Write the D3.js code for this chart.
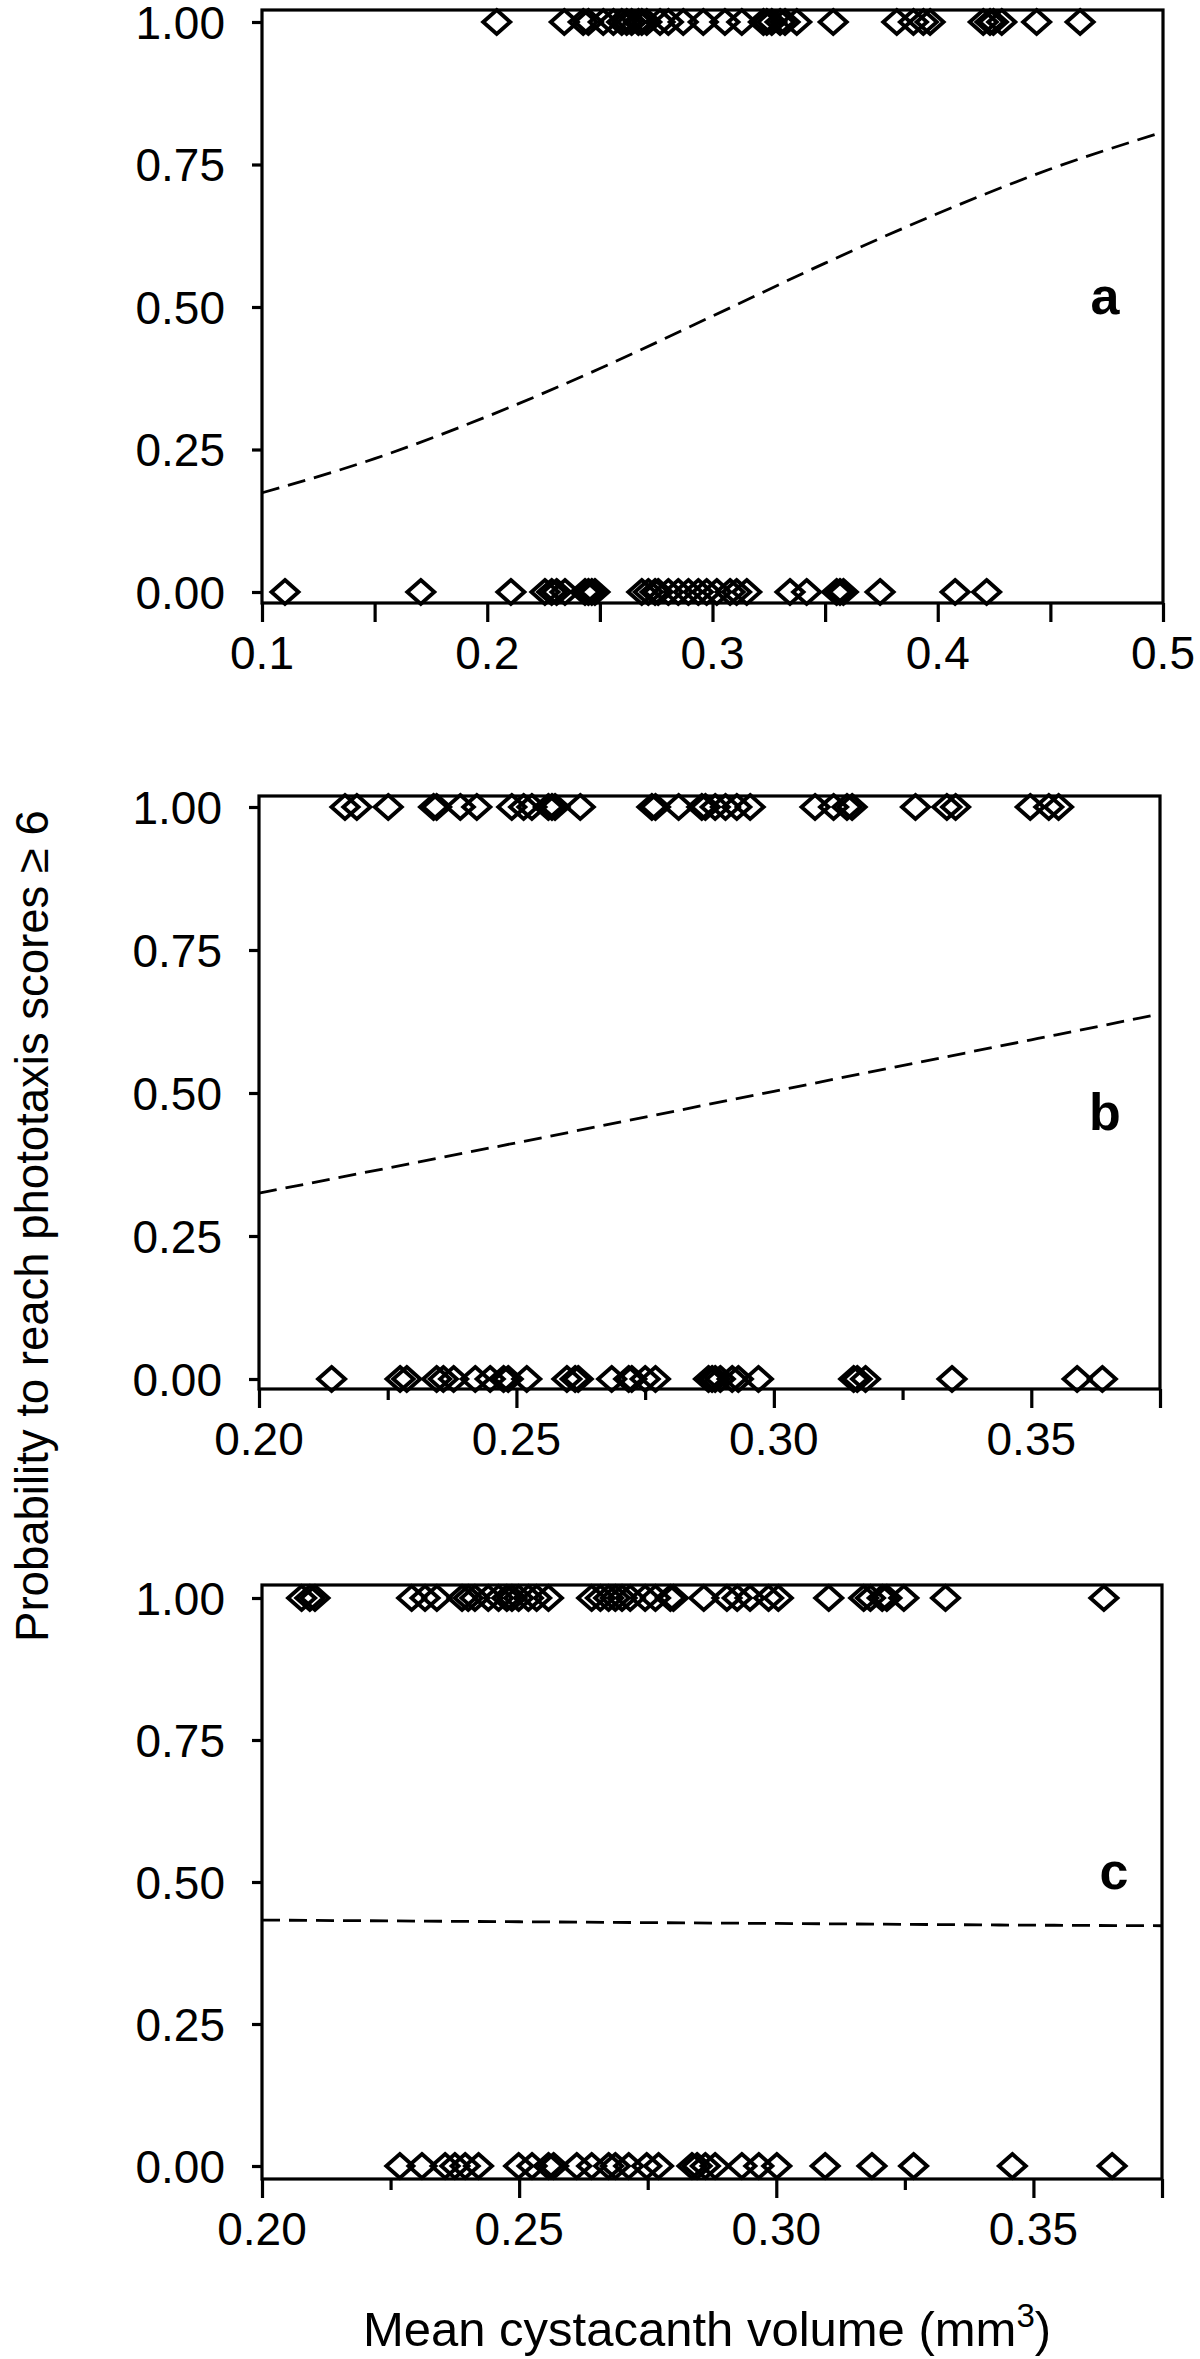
<!DOCTYPE html>
<html><head><meta charset="utf-8">
<script src="https://cdn.jsdelivr.net/npm/d3@7/dist/d3.min.js"></script>
<style>body{margin:0;background:#fff;} text{font-family:"Liberation Sans",Arial,sans-serif;}</style>
</head><body>
<svg id="chart" width="1200" height="2359"></svg>
<script>
// ---- data ----
const yTickValues = [0, 0.25, 0.5, 0.75, 1];
const yTickLabels = ["0.00", "0.25", "0.50", "0.75", "1.00"];

// panel a
const aXTicks = [0.1, 0.15, 0.2, 0.25, 0.3, 0.35, 0.4, 0.45, 0.5];
const aXLabelVals = [0.1, 0.2, 0.3, 0.4, 0.5];
const aXLabels = ["0.1", "0.2", "0.3", "0.4", "0.5"];
const aOnes = [0.2042,0.2342,0.2426,0.2449,0.2515,0.2560,0.2597,0.2619,0.2641,0.2671,0.2686,0.2708,0.2767,0.2804,0.2870,0.2959,0.3055,0.3130,0.3226,0.3241,0.3263,0.3300,0.3322,0.3374,0.3536,0.3818,0.3892,0.3936,0.3966,0.4202,0.4232,0.4247,0.4284,0.4439,0.4632];
const aZeros = [0.1102,0.1705,0.2105,0.2256,0.2286,0.2308,0.2345,0.2434,0.2449,0.2464,0.2478,0.2686,0.2715,0.2745,0.2759,0.2804,0.2848,0.2893,0.2937,0.2974,0.3019,0.3078,0.3107,0.3152,0.3344,0.3418,0.3551,0.3566,0.3581,0.3744,0.4077,0.4217];
const aCurveX = [0.10,0.15,0.20,0.25,0.30,0.35,0.40,0.45,0.50];
const aCurveP = [0.174,0.234,0.308,0.392,0.484,0.577,0.664,0.742,0.807];

// panel b
const bXTicks = [0.2, 0.225, 0.25, 0.275, 0.3, 0.325, 0.35, 0.375];
const bXLabelVals = [0.2, 0.25, 0.3, 0.35];
const bXLabels = ["0.20", "0.25", "0.30", "0.35"];
const bOnes = [0.2167,0.2190,0.2251,0.2339,0.2345,0.2391,0.2423,0.2491,0.2514,0.2530,0.2562,0.2569,0.2575,0.2624,0.2763,0.2770,0.2815,0.2860,0.2867,0.2886,0.2906,0.2928,0.2954,0.3080,0.3116,0.3142,0.3152,0.3275,0.3336,0.3353,0.3498,0.3534,0.3553];
const bZeros = [0.2141,0.2274,0.2287,0.2345,0.2358,0.2378,0.2420,0.2449,0.2475,0.2484,0.2520,0.2598,0.2614,0.2620,0.2685,0.2718,0.2724,0.2750,0.2770,0.2873,0.2880,0.2886,0.2896,0.2919,0.2931,0.2970,0.3155,0.3162,0.3178,0.3346,0.3589,0.3638];
const bCurveX = [0.200,0.250,0.300,0.350,0.375];
const bCurveP = [0.325,0.413,0.503,0.593,0.638];

// panel c
const cXTicks = [0.2, 0.225, 0.25, 0.275, 0.3, 0.325, 0.35, 0.375];
const cXLabelVals = [0.2, 0.25, 0.3, 0.35];
const cXLabels = ["0.20", "0.25", "0.30", "0.35"];
const cOnes = [0.2077,0.2093,0.2103,0.2291,0.2317,0.2340,0.2389,0.2401,0.2414,0.2440,0.2460,0.2476,0.2486,0.2499,0.2518,0.2534,0.2557,0.2641,0.2658,0.2674,0.2687,0.2700,0.2716,0.2745,0.2765,0.2794,0.2800,0.2859,0.2904,0.2924,0.2949,0.2985,0.3004,0.3102,0.3170,0.3183,0.3206,0.3215,0.3248,0.3329,0.3637];
const cZeros = [0.2268,0.2311,0.2356,0.2375,0.2395,0.2421,0.2499,0.2525,0.2557,0.2567,0.2612,0.2641,0.2674,0.2687,0.2713,0.2748,0.2771,0.2836,0.2846,0.2862,0.2881,0.2933,0.2966,0.3001,0.3095,0.3186,0.3267,0.3459,0.3653];
const cCurveX = [0.200,0.250,0.300,0.350,0.375];
const cCurveP = [0.433,0.430,0.427,0.424,0.423];

const panelLetters = ["a", "b", "c"];
const yTitle = "Probability to reach phototaxis scores \u2265 6";
const xTitle = "Mean cystacanth volume (mm";

// ---- drawing ----
const svg = d3.select("#chart");
const FS = 46;

const panels = [
  {xTicks:aXTicks, xLabels:aXLabels, labelVals:aXLabelVals, majorVals:aXTicks, ones:aOnes, zeros:aZeros, cx:aCurveX, cp:aCurveP,
   xd:[0.1,0.5], left:262, right:1163, top:10, bottom:603, y1:22, y0:592, letter:[1105,314]},
  {xTicks:bXTicks, xLabels:bXLabels, labelVals:bXLabelVals, majorVals:bXLabelVals, ones:bOnes, zeros:bZeros, cx:bCurveX, cp:bCurveP,
   xd:[0.2,0.375], left:259, right:1160, top:796, bottom:1389, y1:807, y0:1379, letter:[1105,1130]},
  {xTicks:cXTicks, xLabels:cXLabels, labelVals:cXLabelVals, majorVals:cXLabelVals, ones:cOnes, zeros:cZeros, cx:cCurveX, cp:cCurveP,
   xd:[0.2,0.375], left:262, right:1162, top:1585, bottom:2179, y1:1598, y0:2166, letter:[1114,1889]}
];

const diamond = "M0,-12L13.5,0L0,12L-13.5,0Z";

panels.forEach((p, i) => {
  const x = d3.scaleLinear().domain(p.xd).range([p.left, p.right]);
  const y = d3.scaleLinear().domain([0, 1]).range([p.y0, p.y1]);
  const g = svg.append("g");

  // frame
  g.append("rect").attr("x", p.left).attr("y", p.top).attr("width", p.right - p.left).attr("height", p.bottom - p.top)
    .attr("fill", "none").attr("stroke", "#000").attr("stroke-width", 3.2);

  // y axis
  const yAxis = d3.axisLeft(y).tickValues(yTickValues).tickFormat((d, k) => yTickLabels[k]).tickSize(10).tickPadding(27);
  const ya = g.append("g").attr("transform", `translate(${p.left},0)`).call(yAxis);
  ya.select(".domain").remove();
  ya.selectAll("line").attr("stroke-width", 3.2);
  ya.selectAll("text").attr("font-size", FS).attr("font-family", "Liberation Sans, Arial, sans-serif").attr("fill", "#000")
    .attr("dy", "0.35em");

  // x axis
  const xAxis = d3.axisBottom(x).tickValues(p.xTicks).tickFormat("").tickSizeOuter(0).tickSize(18);
  const xa = g.append("g").attr("transform", `translate(0,${p.bottom})`).call(xAxis);
  xa.select(".domain").remove();
  xa.selectAll("line").attr("stroke-width", 3.2)
    .attr("y2", d => (i === 0 || p.majorVals.some(m => Math.abs(m - d) < 1e-9) || Math.abs(d - p.xd[1]) < 1e-9) ? 19 : 11);
  // x labels
  g.selectAll(".xl").data(p.labelVals).join("text")
    .attr("x", d => x(d)).attr("y", p.bottom + 50)
    .attr("text-anchor", "middle").attr("dy", "0.35em")
    .attr("font-size", FS).text((d, k) => p.xLabels[k]);

  // curve
  const line = d3.line().x(d => x(d[0])).y(d => y(d[1])).curve(d3.curveMonotoneX);
  g.append("path").datum(p.cx.map((v, k) => [v, p.cp[k]]))
    .attr("d", line).attr("fill", "none").attr("stroke", "#000").attr("stroke-width", 2.8)
    .attr("stroke-dasharray", "18,9");

  // points
  const pts = p.ones.map(v => [v, 1]).concat(p.zeros.map(v => [v, 0]));
  g.selectAll(".pt").data(pts).join("path")
    .attr("d", diamond).attr("transform", d => `translate(${x(d[0])},${y(d[1])})`)
    .attr("fill", "none").attr("stroke", "#000").attr("stroke-width", 3.9);

  // panel letter
  g.append("text").attr("x", p.letter[0]).attr("y", p.letter[1]).attr("text-anchor", "middle")
    .attr("font-size", 52).attr("font-weight", "bold").text(panelLetters[i]);
});

// axis titles
svg.append("text").attr("transform", "translate(48,1226) rotate(-90)").attr("text-anchor", "middle")
  .attr("font-size", 45.5).text(yTitle);
const xt = svg.append("text").attr("x", 707).attr("y", 2346).attr("text-anchor", "middle").attr("font-size", 49);
xt.append("tspan").text(xTitle);
xt.append("tspan").attr("font-size", 33).attr("dy", -19).text("3");
xt.append("tspan").attr("dy", 19).text(")");
</script>
</body></html>
